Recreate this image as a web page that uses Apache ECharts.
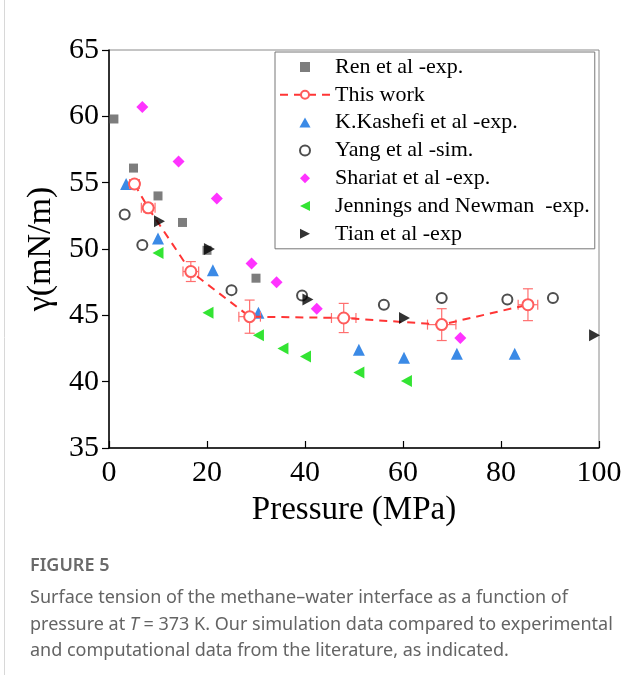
<!DOCTYPE html>
<html>
<head>
<meta charset="utf-8">
<title>Figure 5</title>
<script src="https://cdn.jsdelivr.net/npm/echarts@6/dist/echarts.min.js"></script>
<style>
html, body { margin: 0; padding: 0; background: #fff; }
#chart-box { width: 641px; height: 675px; }
</style>
</head>
<body>
<div id="chart-box"></div>
<script>
// values: [pressure MPa, gamma mN/m]
var renData = [[1, 59.8], [5, 56.1], [10, 54.0], [15, 52.0], [20, 49.9], [30, 47.8]];
var thisWork = [[5.2, 54.9], [8.0, 53.1], [16.7, 48.3], [28.7, 44.9], [47.9, 44.8], [67.9, 44.3], [85.5, 45.8]];
// error half widths for "This work": [xErr, yErr]
var thisWorkErr = [[1.0, 0.3], [1.4, 0.3], [1.6, 0.75], [2.2, 1.25], [2.5, 1.1], [2.9, 1.2], [2.0, 1.2]];
var kashefiData = [[3.5, 54.9], [10, 50.8], [21.2, 48.4], [30.5, 45.2], [51, 42.4], [60.2, 41.8], [71, 42.1], [82.8, 42.1]];
var yangData = [[3.2, 52.6], [6.8, 50.3], [25, 46.9], [39.4, 46.5], [56.1, 45.8], [67.9, 46.3], [81.3, 46.2], [90.6, 46.3]];
var shariatData = [[6.8, 60.7], [14.2, 56.6], [22, 53.8], [29.1, 48.9], [34.2, 47.5], [42.4, 45.5], [71.7, 43.3]];
var jenningsData = [[10, 49.7], [20.2, 45.2], [30.5, 43.5], [35.5, 42.5], [40.1, 41.9], [51, 40.7], [60.7, 40.05]];
var tianData = [[10.3, 52.1], [20.5, 50.0], [40.6, 46.2], [60.3, 44.8], [99.1, 43.5]];

var xTicks = [0, 20, 40, 60, 80, 100];
var yTicks = [35, 40, 45, 50, 55, 60, 65];

var seriesNames = ['Ren et al -exp.', 'This work', 'K.Kashefi et al -exp.', 'Yang et al -sim.',
    'Shariat et al -exp.', 'Jennings and Newman  -exp.', 'Tian et al -exp'];

var serif = 'Liberation Serif';
// path symbols keep their aspect in the legend box
var squareSym = 'path://M0,0 L10,0 L10,10 L0,10 Z';
var upTri = 'path://M5,0 L10,9 L0,9 Z';
var diamondSym = 'path://M5,0 L10,5 L5,10 L0,5 Z';
var leftTri = 'path://M10,0 L10,10 L0,5 Z';
var rightTri = 'path://M0,0 L10,5 L0,10 Z';

var errRows = thisWork.map(function (p, i) {
    return [p[0], p[1], thisWorkErr[i][0], thisWorkErr[i][1]];
});

function renderErr(params, api) {
    var x = api.value(0), y = api.value(1), ex = api.value(2), ey = api.value(3);
    var top = api.coord([x, y + ey]);
    var bot = api.coord([x, y - ey]);
    var lft = api.coord([x - ex, y]);
    var rgt = api.coord([x + ex, y]);
    var cap = 5;
    var st = { stroke: '#ff6f6f', lineWidth: 1.2, fill: null };
    var lines = [
        [top, bot],
        [[top[0] - cap, top[1]], [top[0] + cap, top[1]]],
        [[bot[0] - cap, bot[1]], [bot[0] + cap, bot[1]]],
        [lft, rgt],
        [[lft[0], lft[1] - cap], [lft[0], lft[1] + cap]],
        [[rgt[0], rgt[1] - cap], [rgt[0], rgt[1] + cap]]
    ];
    return {
        type: 'group',
        children: lines.map(function (l) {
            return { type: 'line', shape: { x1: l[0][0], y1: l[0][1], x2: l[1][0], y2: l[1][1] }, style: st };
        })
    };
}

var chart = echarts.init(document.getElementById('chart-box'));

var option = {
    backgroundColor: '#fff',
    animation: false,
    grid: {
        left: 109,
        right: 42,
        top: 50,
        bottom: 227,
        show: true,
        borderColor: '#8a8a8a',
        borderWidth: 1
    },
    legend: {
        data: seriesNames,
        orient: 'vertical',
        left: 275,
        top: 52,
        padding: [3, 5, 3, 4],
        itemWidth: 50,
        itemHeight: 10,
        itemGap: 3.8,
        borderColor: '#777',
        borderWidth: 1,
        backgroundColor: '#fff',
        textStyle: {
            fontFamily: serif,
            fontSize: 22,
            lineHeight: 24,
            color: '#000'
        }
    },
    xAxis: {
        type: 'value',
        min: 0,
        max: 100,
        interval: 20,
        name: 'Pressure (MPa)',
        nameLocation: 'middle',
        nameGap: 46,
        nameTextStyle: { fontFamily: serif, fontSize: 33, color: '#000' },
        axisLine: { show: true, onZero: false, lineStyle: { color: '#000', width: 1.5 } },
        axisTick: { show: true, inside: true, length: 7, lineStyle: { color: '#000', width: 1.2 } },
        axisLabel: {
            fontFamily: serif, fontSize: 30, color: '#000', margin: 10,
            formatter: function (v) { return xTicks.indexOf(v) >= 0 ? String(v) : ''; }
        },
        splitLine: { show: false }
    },
    yAxis: {
        type: 'value',
        min: 35,
        max: 65,
        interval: 5,
        name: 'γ(mN/m)',
        nameLocation: 'middle',
        nameGap: 46,
        nameTextStyle: { fontFamily: serif, fontSize: 34, color: '#000' },
        axisLine: { show: true, lineStyle: { color: '#000', width: 1.5 } },
        axisTick: { show: true, length: 7, lineStyle: { color: '#000', width: 1.2 } },
        axisLabel: {
            fontFamily: serif, fontSize: 30, color: '#000', margin: 10,
            formatter: function (v) { return yTicks.indexOf(v) >= 0 ? String(v) : ''; }
        },
        splitLine: { show: false }
    },
    series: [{
        name: seriesNames[0],
        type: 'scatter',
        symbol: squareSym,
        symbolSize: 9,
        itemStyle: { color: '#5d5d5d' },
        data: renData,
        z: 3
    }, {
        name: seriesNames[1],
        type: 'line',
        symbol: 'emptyCircle',
        symbolSize: 11,
        lineStyle: { color: '#ff3535', width: 2, type: [8, 6] },
        itemStyle: { color: '#ff5c5c', borderWidth: 1.3 },
        data: thisWork,
        z: 5
    }, {
        name: 'err',
        type: 'custom',
        renderItem: renderErr,
        encode: { x: 0, y: 1 },
        data: errRows,
        z: 4
    }, {
        name: seriesNames[2],
        type: 'scatter',
        symbol: upTri,
        symbolSize: 12,
        itemStyle: { color: '#0a6de0' },
        data: kashefiData,
        z: 3
    }, {
        name: seriesNames[3],
        type: 'scatter',
        symbol: 'emptyCircle',
        symbolSize: 10,
        itemStyle: { color: '#222', borderWidth: 1.2 },
        data: yangData,
        z: 3
    }, {
        name: seriesNames[4],
        type: 'scatter',
        symbol: diamondSym,
        symbolSize: 12,
        itemStyle: { color: '#ff00ff' },
        data: shariatData,
        z: 3
    }, {
        name: seriesNames[5],
        type: 'scatter',
        symbol: leftTri,
        symbolSize: [11, 12],
        itemStyle: { color: '#00dd00' },
        data: jenningsData,
        z: 3
    }, {
        name: seriesNames[6],
        type: 'scatter',
        symbol: rightTri,
        symbolSize: [11, 12],
        itemStyle: { color: '#000' },
        data: tianData,
        z: 6
    }],
    graphic: [{
        type: 'line',
        shape: { x1: 4.5, y1: 0, x2: 4.5, y2: 675 },
        style: { stroke: '#d8d8d8', lineWidth: 1 }
    }, {
        type: 'text',
        left: 30,
        top: 557,
        style: { text: 'FIGURE 5', font: '600 18px "Noto Sans"', fill: '#6a6a6a' }
    }, {
        type: 'text',
        left: 30,
        top: 585,
        style: {
            text: 'Surface tension of the methane\u2013water interface as a function of\n' +
                'pressure at {i|T} = 373 K. Our simulation data compared to experimental\n' +
                'and computational data from the literature, as indicated.',
            font: '18px "Noto Sans"',
            fill: '#646464',
            lineHeight: 26.5,
            rich: {
                i: { fontStyle: 'italic', fontFamily: 'Noto Sans', fontSize: 18, fill: '#646464' }
            }
        }
    }]
};

chart.setOption(option);
</script>
</body>
</html>
